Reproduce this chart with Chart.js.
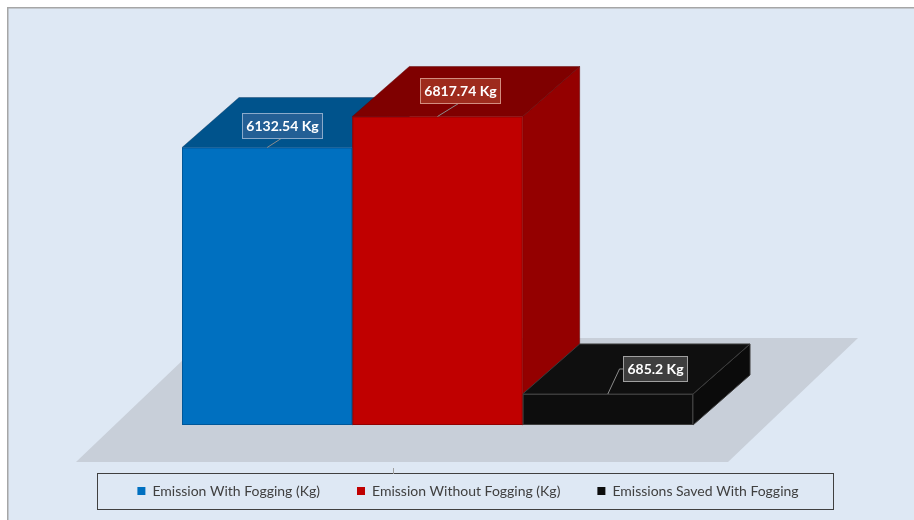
<!DOCTYPE html>
<html>
<head>
<meta charset="utf-8">
<script src="https://cdn.jsdelivr.net/npm/chart.js@4/dist/chart.umd.min.js"></script>
<style>
  html, body { margin: 0; padding: 0; background: #ffffff; }
  #wrap { width: 914px; height: 520px; position: relative; }
</style>
</head>
<body>
<div id="wrap"><canvas id="c" width="914" height="520"></canvas></div>
<script>
// ---- data ----
const categories = ['Emissions'];
const seriesNames = ['Emission With Fogging (Kg)', 'Emission Without Fogging (Kg)', 'Emissions Saved With Fogging'];
const seriesValues = [6132.54, 6817.74, 685.2];
const valueSuffix = ' Kg';
const axisMin = 0;
const axisMax = 8000;

// ---- styles ----
const frontColors = ['#0070C0', '#C00000', '#0D0D0D'];
const topColors   = ['#00538C', '#7F0000', '#0F0F0F'];
const sideColors  = ['#005C9C', '#940000', '#0B0B0B'];
const edgeColors  = ['rgba(0,40,80,0.35)', 'rgba(90,0,0,0.45)', '#3C3C3C'];
const labelFills   = ['#235F95', '#9E2B1D', '#3E3E3E'];
const labelStrokes = ['#8AAACB', '#D38D80', '#A0A0A0'];
const labelOffsets = [[15, -22], [22, -26], [47, -25]];
const DX = 57, DY = -50;

function poly(ctx, pts, fill, stroke) {
  ctx.beginPath();
  ctx.moveTo(pts[0][0], pts[0][1]);
  for (let k = 1; k < pts.length; k++) ctx.lineTo(pts[k][0], pts[k][1]);
  ctx.closePath();
  if (fill) { ctx.fillStyle = fill; ctx.fill(); }
  if (stroke) { ctx.strokeStyle = stroke; ctx.lineWidth = 1; ctx.stroke(); }
}

function barGeom(chart, i) {
  const el = chart.getDatasetMeta(i).data[0];
  const p = el.getProps(['x', 'y', 'width', 'base'], true);
  return { x0: p.x - p.width / 2, x1: p.x + p.width / 2, cx: p.x, yt: p.y, yb: p.base };
}

const scene = {
  id: 'scene',
  afterLayout(chart) {
    const lg = chart.legend;
    if (lg) {
      lg.left = 97; lg.right = 839; lg.width = 742;
      lg.top = 447; lg.bottom = 507; lg.height = 60;
    }
  },
  beforeDraw(chart) {
    const ctx = chart.ctx;
    ctx.save();
    ctx.fillStyle = '#FFFFFF';
    ctx.fillRect(0, 0, 914, 520);
    ctx.fillStyle = '#DEE8F4';
    ctx.fillRect(8, 8, 906, 512);
    ctx.strokeStyle = '#A6A6A6';
    ctx.lineWidth = 1.5;
    ctx.beginPath();
    ctx.moveTo(7.75, 520); ctx.lineTo(7.75, 7.75); ctx.lineTo(914, 7.75);
    ctx.stroke();
    // legend frame
    ctx.strokeStyle = '#404040';
    ctx.lineWidth = 1;
    ctx.strokeRect(97.5, 473.5, 736, 36);
    // small axis tick
    ctx.strokeStyle = '#A0A0A0';
    ctx.beginPath(); ctx.moveTo(393.5, 468); ctx.lineTo(393.5, 474); ctx.stroke();
    ctx.restore();
  },
  beforeDatasetsDraw(chart) {
    const ctx = chart.ctx;
    const n = chart.data.datasets.length;
    let gl = Infinity, gr = -Infinity, base = 0;
    for (let i = 0; i < n; i++) {
      const g = barGeom(chart, i);
      gl = Math.min(gl, g.x0); gr = Math.max(gr, g.x1); base = g.yb;
    }
    ctx.save();
    // floor
    poly(ctx, [[gl - 106, base + 37], [gr + 35, base + 37], [gr + 165, base - 87], [gl + 24, base - 87]], '#C8CFD9', null);
    // side and top faces
    for (let i = 0; i < n; i++) {
      const g = barGeom(chart, i);
      poly(ctx, [[g.x1, g.yt], [g.x1 + DX, g.yt + DY], [g.x1 + DX, g.yb + DY], [g.x1, g.yb]], sideColors[i], edgeColors[i]);
      poly(ctx, [[g.x0, g.yt], [g.x1, g.yt], [g.x1 + DX, g.yt + DY], [g.x0 + DX, g.yt + DY]], topColors[i], edgeColors[i]);
    }
    ctx.restore();
  },
  afterDatasetsDraw(chart) {
    const ctx = chart.ctx;
    const n = chart.data.datasets.length;
    ctx.save();
    for (let i = 0; i < n; i++) {
      const g = barGeom(chart, i);
      ctx.strokeStyle = edgeColors[i];
      ctx.lineWidth = 1;
      ctx.strokeRect(g.x0 + 0.5, g.yt + 0.5, g.x1 - g.x0 - 1, g.yb - g.yt - 1);
    }
    ctx.font = 'bold 14px Lato';
    ctx.textAlign = 'center';
    ctx.textBaseline = 'middle';
    for (let i = 0; i < n; i++) {
      const g = barGeom(chart, i);
      const text = chart.data.datasets[i].data[0] + valueSuffix;
      const tw = ctx.measureText(text).width;
      const bw = Math.round(tw + 8), bh = 25;
      const ax = g.cx, ay = g.yt;
      const cx = ax + labelOffsets[i][0], cy = ay + labelOffsets[i][1];
      const bx = Math.round(cx - bw / 2) + 0.5, by = Math.round(cy - bh / 2) + 0.5;
      // leader line
      ctx.strokeStyle = '#8C8C8C';
      ctx.lineWidth = 1;
      ctx.beginPath();
      if (labelOffsets[i][0] > bw / 2) {
        ctx.moveTo(bx, cy); ctx.lineTo(bx - 4, cy); ctx.lineTo(ax, ay);
      } else {
        ctx.moveTo(cx - 1, by + bh); ctx.lineTo(ax, ay);
      }
      ctx.stroke();
      // box
      ctx.fillStyle = labelFills[i];
      ctx.fillRect(bx, by, bw, bh);
      ctx.strokeStyle = labelStrokes[i];
      ctx.strokeRect(bx, by, bw, bh);
      ctx.fillStyle = '#FFFFFF';
      ctx.fillText(text, bx + bw / 2, by + bh / 2 + 0.5);
    }
    ctx.restore();
  }
};

const datasets = seriesNames.map((name, i) => ({
  label: name,
  data: [seriesValues[i]],
  backgroundColor: frontColors[i],
  borderWidth: 0
}));

new Chart(document.getElementById('c'), {
  type: 'bar',
  data: { labels: categories, datasets },
  plugins: [scene],
  options: {
    responsive: false,
    animation: false,
    devicePixelRatio: 1,
    categoryPercentage: 511 / 855,
    barPercentage: 1,
    layout: { padding: { left: 10, right: 49, top: 63, bottom: 85 } },
    scales: {
      x: { display: false },
      y: { display: false, min: axisMin, max: axisMax }
    },
    plugins: {
      tooltip: { enabled: false },
      legend: {
        position: 'bottom',
        maxHeight: 10,
        labels: {
          boxWidth: 8,
          boxHeight: 8,
          padding: 37,
          color: '#404040',
          font: { family: 'Lato', size: 14 }
        }
      }
    }
  }
});
</script>
</body>
</html>
